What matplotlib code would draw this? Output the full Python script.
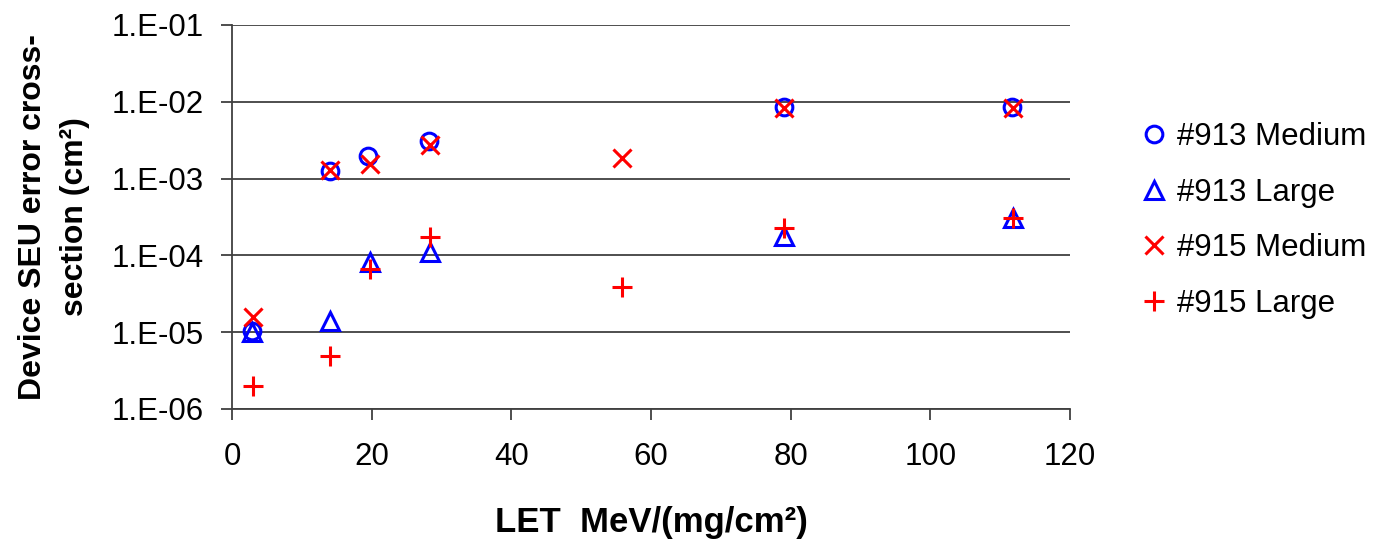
import matplotlib.pyplot as plt
from matplotlib.ticker import FixedLocator, NullLocator

plt.rcParams['font.family'] = ['Liberation Sans', 'DejaVu Sans']

# LET values (MeV/(mg/cm2)) and cross sections (cm2)
let_913_med = [2.8, 14.0, 19.5, 28.2, 79.0, 111.7]
xs_913_med = [1.05e-5, 1.26e-3, 1.95e-3, 3.1e-3, 8.6e-3, 8.6e-3]

let_913_large = [2.8, 14.1, 19.8, 28.4, 79.0, 111.8]
xs_913_large = [1.0e-5, 1.42e-5, 8.2e-5, 1.1e-4, 1.8e-4, 3.1e-4]

let_915_med = [3.0, 14.1, 19.8, 28.4, 55.9, 79.1, 111.8]
xs_915_med = [1.57e-5, 1.28e-3, 1.57e-3, 2.7e-3, 1.88e-3, 8.3e-3, 8.3e-3]

let_915_large = [3.0, 14.1, 19.8, 28.4, 55.9, 79.1, 111.8]
xs_915_large = [2.0e-6, 4.96e-6, 6.6e-5, 1.74e-4, 3.87e-5, 2.28e-4, 3.08e-4]

y_ticks = [1e-6, 1e-5, 1e-4, 1e-3, 1e-2, 1e-1]
y_labels = ["1.E-06", "1.E-05", "1.E-04", "1.E-03", "1.E-02", "1.E-01"]
x_ticks = [0, 20, 40, 60, 80, 100, 120]

fig = plt.figure(figsize=(13.75, 5.39), dpi=100)
ax = fig.add_axes([232 / 1375, 1 - 409 / 539, (1070 - 232) / 1375, (409 - 25) / 539])

ax.plot(let_913_med, xs_913_med, linestyle='none', marker='o', markersize=12,
        markerfacecolor='none', markeredgecolor='#0000FF', markeredgewidth=2.2,
        label='#913 Medium', zorder=3)
ax.plot(let_913_large, xs_913_large, linestyle='none', marker='^', markersize=13,
        markerfacecolor='none', markeredgecolor='#0000FF', markeredgewidth=2.2,
        label='#913 Large', zorder=3)
ax.plot(let_915_med, xs_915_med, linestyle='none', marker='x', markersize=13,
        markeredgecolor='#FF0000', markeredgewidth=2.2,
        label='#915 Medium', zorder=4)
ax.plot(let_915_large, xs_915_large, linestyle='none', marker='+', markersize=14,
        markeredgecolor='#FF0000', markeredgewidth=2.2,
        label='#915 Large', zorder=4)

ax.set_yscale('log')
ax.set_ylim(1e-6, 1e-1)
ax.set_xlim(0, 120)
ax.yaxis.set_major_locator(FixedLocator(y_ticks))
ax.yaxis.set_minor_locator(NullLocator())
ax.set_yticks(y_ticks)
ax.set_yticklabels(y_labels)
ax.set_xticks(x_ticks)

ax.grid(axis='y', color='#404040', linewidth=1.3)
ax.set_axisbelow(True)
for side in ['top', 'right']:
    ax.spines[side].set_visible(False)
for side in ['left', 'bottom']:
    ax.spines[side].set_color('#404040')
    ax.spines[side].set_linewidth(1.3)

ax.tick_params(axis='both', direction='out', length=8, width=1.3, color='#404040',
               labelsize=22.5)
ax.tick_params(axis='y', pad=12)
ax.tick_params(axis='x', pad=16)

ax.set_xlabel('LET  MeV/(mg/cm²)', fontsize=25, fontweight='bold', labelpad=24)
ax.set_ylabel('Device SEU error cross-\nsection (cm²)', fontsize=23, fontweight='bold',
              labelpad=16, linespacing=1.5)

ax.legend(loc='upper left', bbox_to_anchor=(1.07, 0.78), frameon=False, fontsize=22.5,
          handlelength=0.8, handletextpad=0.35, labelspacing=0.82, borderaxespad=0)

fig.savefig('out.png', dpi=100)
